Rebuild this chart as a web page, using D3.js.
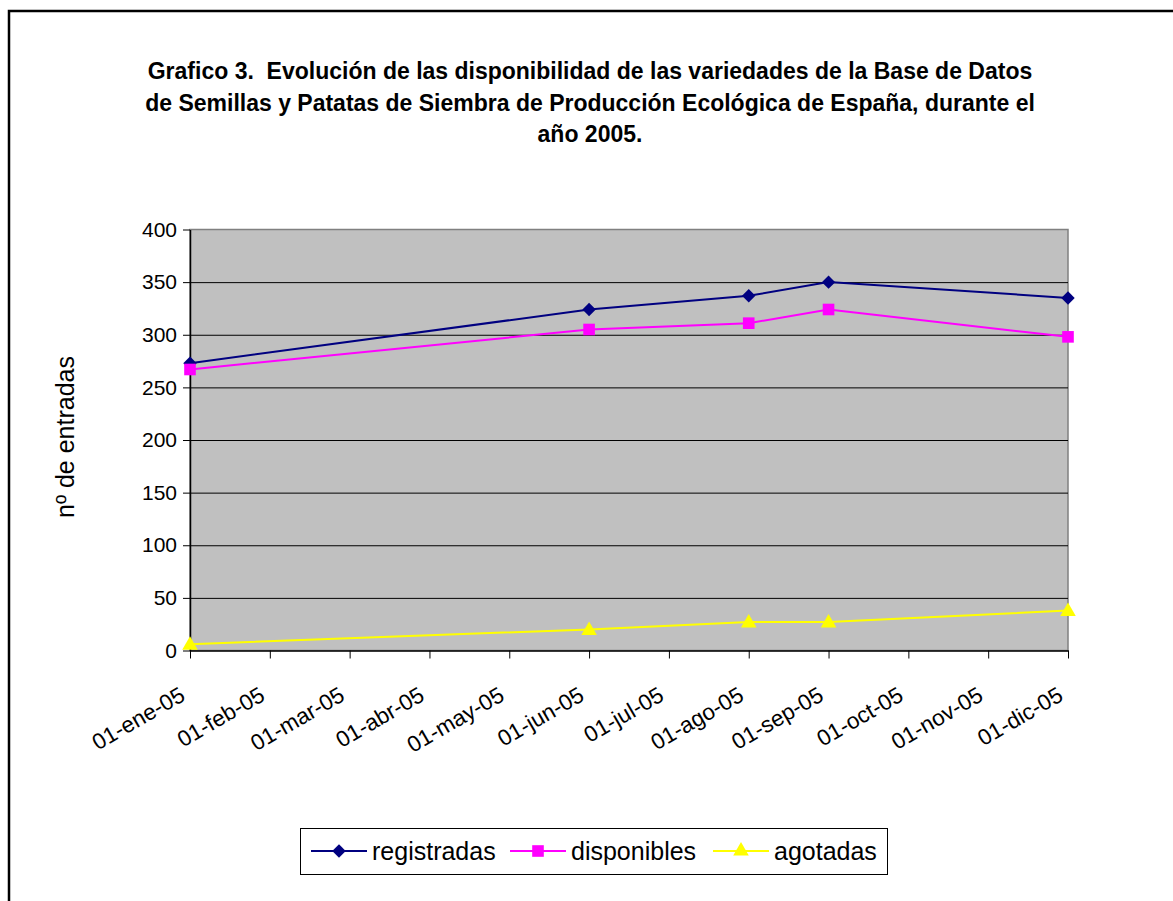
<!DOCTYPE html>
<html>
<head>
<meta charset="utf-8">
<script src="https://cdn.jsdelivr.net/npm/d3@7"></script>
<style>
  html, body { margin: 0; padding: 0; background: #fff; }
  svg { display: block; font-family: "Liberation Sans", Arial, sans-serif; }
</style>
</head>
<body>
<svg id="chart" width="1173" height="901"></svg>
<script>
// ---- data ----
const titleLines = [
  "Grafico 3.  Evolución de las disponibilidad de las variedades de la Base de Datos",
  "de Semillas y Patatas de Siembra de Producción Ecológica de España, durante el",
  "año 2005."
];
const yLabel = "nº de entradas";
const monthLabels = ["01-ene-05","01-feb-05","01-mar-05","01-abr-05","01-may-05","01-jun-05",
                     "01-jul-05","01-ago-05","01-sep-05","01-oct-05","01-nov-05","01-dic-05"];
const dataMonths = ["01-ene-05","01-jun-05","01-ago-05","01-sep-05","01-dic-05"];
const registradas = [273, 324, 337, 350, 335];
const disponibles = [267, 305, 311, 324, 298];
const agotadas    = [6, 20, 27, 27, 38];
const yTicks = [0, 50, 100, 150, 200, 250, 300, 350, 400];
const seriesNames = ["registradas", "disponibles", "agotadas"];

// ---- layout ----
const svg = d3.select("#chart");
const plot = { left: 190, right: 1068, top: 229.5, bottom: 650.5 };

const x = d3.scalePoint().domain(monthLabels).range([plot.left, plot.right]);
const y = d3.scaleLinear().domain([0, 400]).range([plot.bottom, plot.top]);

// outer frame
svg.append("path")
  .attr("d", `M9,910 L9,11 L1180,11`)
  .attr("fill", "none").attr("stroke", "#000").attr("stroke-width", 2.5);

// title
svg.append("g").selectAll("text").data(titleLines).join("text")
  .attr("x", 590).attr("y", (d, i) => 79 + i * 31.5)
  .attr("text-anchor", "middle")
  .attr("font-weight", "bold").attr("font-size", 23)
  .attr("fill", "#000")
  .style("white-space", "pre")
  .text(d => d);

// plot background
svg.append("rect")
  .attr("x", plot.left).attr("y", plot.top)
  .attr("width", plot.right - plot.left).attr("height", plot.bottom - plot.top)
  .attr("fill", "#C0C0C0").attr("stroke", "#808080").attr("stroke-width", 1.5);

// gridlines
svg.append("g")
  .attr("transform", `translate(${plot.left},0)`)
  .call(d3.axisLeft(y).tickValues(yTicks.slice(1, -1)).tickSize(-(plot.right - plot.left)).tickFormat(""))
  .call(g => g.select(".domain").remove())
  .call(g => g.selectAll("line").attr("stroke", "#000").attr("stroke-width", 1));

// y axis
svg.append("g")
  .attr("transform", `translate(${plot.left},0)`)
  .call(d3.axisLeft(y).tickValues(yTicks).tickSize(7).tickPadding(6).tickSizeOuter(0))
  .call(g => g.select(".domain").attr("stroke", "#000").attr("stroke-width", 1.5))
  .call(g => g.selectAll("line").attr("stroke", "#000").attr("stroke-width", 1))
  .call(g => g.selectAll("text").attr("font-size", 21).attr("fill", "#000")
    .attr("font-family", "Liberation Sans, Arial, sans-serif"));

// x axis
svg.append("g")
  .attr("transform", `translate(0,${plot.bottom})`)
  .call(d3.axisBottom(x).tickSize(8).tickSizeOuter(0))
  .call(g => g.select(".domain").attr("stroke", "#000").attr("stroke-width", 1.5))
  .call(g => g.selectAll("line").attr("stroke", "#000").attr("stroke-width", 1))
  .call(g => g.selectAll("text")
    .attr("font-size", 22.5).attr("fill", "#000")
    .attr("font-family", "Liberation Sans, Arial, sans-serif")
    .attr("text-anchor", "end")
    .attr("dy", null).attr("y", 0)
    .attr("transform", "translate(-4,49) rotate(-30)"));

// y label
svg.append("text")
  .attr("transform", "translate(74,437) rotate(-90)")
  .attr("text-anchor", "middle")
  .attr("font-size", 25).attr("fill", "#000")
  .text(yLabel);

// series
const series = [
  { name: seriesNames[0], values: registradas, color: "#000080", symbol: "diamond" },
  { name: seriesNames[1], values: disponibles, color: "#FF00FF", symbol: "square" },
  { name: seriesNames[2], values: agotadas,    color: "#FFFF00", symbol: "triangle" }
];

function markerPath(type) {
  if (type === "diamond") return d3.symbol(d3.symbolDiamond2, 115)();
  if (type === "square") return d3.symbol(d3.symbolSquare, 135)();
  return d3.symbol(d3.symbolTriangle, 105)();
}

const line = d3.line().x(d => x(d.m)).y(d => y(d.v));

series.forEach(s => {
  const pts = dataMonths.map((m, i) => ({ m, v: s.values[i] }));
  svg.append("path").datum(pts)
    .attr("d", line).attr("fill", "none")
    .attr("stroke", s.color).attr("stroke-width", 2);
  svg.append("g").selectAll("path").data(pts).join("path")
    .attr("d", markerPath(s.symbol))
    .attr("transform", d => `translate(${x(d.m)},${y(d.v) + (s.symbol === "triangle" ? 1 : 0)})`)
    .attr("fill", s.color);
});

// legend
const legend = svg.append("g");
legend.append("rect")
  .attr("x", 300.5).attr("y", 828.5).attr("width", 587).attr("height", 46)
  .attr("fill", "#fff").attr("stroke", "#000").attr("stroke-width", 1);
const legendX = [311, 510, 713];
series.forEach((s, i) => {
  const lx = legendX[i];
  const ly = 851;
  legend.append("line")
    .attr("x1", lx).attr("x2", lx + 56).attr("y1", ly).attr("y2", ly)
    .attr("stroke", s.color).attr("stroke-width", 2);
  legend.append("path")
    .attr("d", markerPath(s.symbol))
    .attr("transform", `translate(${lx + 28},${ly})`)
    .attr("fill", s.color);
  legend.append("text")
    .attr("x", lx + 61).attr("y", ly + 9)
    .attr("font-size", 25).attr("fill", "#000")
    .text(s.name);
});
</script>
</body>
</html>
